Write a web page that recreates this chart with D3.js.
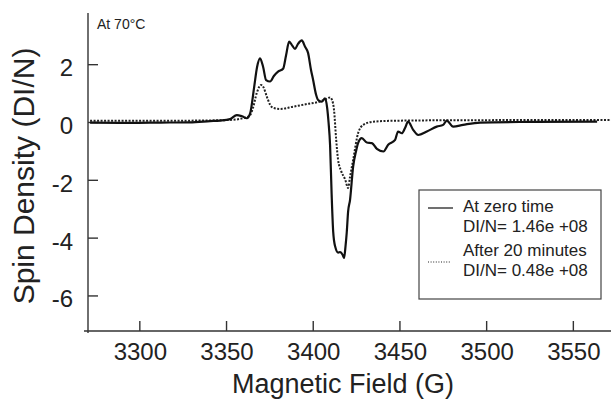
<!DOCTYPE html>
<html lang="en">
<head>
<meta charset="UTF-8">
<title>Spin density</title>
<style>
  body { margin: 0; background: #fff; }
  text { font-family: "Liberation Sans", Arial, sans-serif; fill: #222; }
</style>
<script src="https://d3js.org/d3.v7.min.js"></script>
</head>
<body>
<div id="chart"></div>
<script>
// field (G) and spin density (DI/N)
var zeroField = [3271.6, 3294.6, 3312, 3329, 3340.8, 3346.5, 3352.3, 3356.2, 3359.2, 3362,
  3363.9, 3366.2, 3367.9, 3369.6, 3371.4, 3373.1, 3375.4, 3377.7, 3380, 3382.9,
  3384.6, 3386.4, 3388.1, 3389.8, 3391.5, 3393.7, 3395.6, 3397.3, 3399, 3400.2,
  3401.9, 3403.1, 3405.2, 3407.1, 3408.3, 3409.1, 3410, 3410.9, 3411.8, 3412.9,
  3414.7, 3415.8, 3417.3, 3418.1, 3418.9, 3419.6, 3420.4, 3421.5, 3423.3, 3425,
  3426.2, 3428.3, 3431.2, 3434.1, 3437, 3440.8, 3443.5, 3447.5, 3449.2, 3451.4,
  3453.3, 3455, 3457.9, 3460.8, 3465.8, 3471.5, 3475.2, 3477.3, 3481, 3486.7,
  3496.5, 3519.6, 3564];
var zeroValue = [-0.02, -0.03, -0.02, -0.01, 0.03, 0.05, 0.1, 0.24, 0.2, 0.13,
  0.3, 1.2, 1.9, 2.2, 1.9, 1.45, 1.4, 1.6, 1.74, 1.84,
  2.3, 2.78, 2.65, 2.53, 2.7, 2.82, 2.6, 2.39, 1.8, 1.46,
  0.95, 0.76, 0.7, 0.82, 0.5, 0.0, -0.8, -2.5, -3.8, -4.3,
  -4.52, -4.5, -4.6, -4.7, -4.3, -3.83, -3.1, -2.7, -1.54, -1.0,
  -0.72, -0.56, -0.71, -0.73, -0.93, -1.02, -0.79, -0.62, -0.33, -0.39,
  -0.2, 0.01, -0.27, -0.45, -0.33, -0.16, -0.1, 0.05, -0.16, -0.1,
  -0.02, 0.0, 0.01];

var laterField = [3271.6, 3306, 3335, 3352.3, 3361, 3363.9, 3365.6, 3367.7, 3370.2, 3371.6,
  3373.5, 3375.4, 3377.1, 3381.2, 3388.7, 3396.6, 3404.2, 3407.7, 3410, 3411.2,
  3412.3, 3413.5, 3414.6, 3416.4, 3418.7, 3420.4, 3421.5, 3423.3, 3426.2, 3429.1,
  3434.8, 3444.6, 3479.2, 3572];
var laterValue = [0.04, 0.04, 0.05, 0.07, 0.15, 0.24, 0.5, 1.0, 1.28, 1.2,
  0.88, 0.6, 0.49, 0.45, 0.53, 0.62, 0.71, 0.8, 0.85, 0.75,
  0.4, -0.6, -1.3, -1.7, -1.99, -2.28, -1.9, -1.31, -0.38, -0.1,
  0.01, 0.04, 0.06, 0.07];

var xTicks = [3300, 3350, 3400, 3450, 3500, 3550];
var yTicks = [2, 0, -2, -4, -6];

var width = 611, height = 400;

var svg = d3.select("#chart").append("svg")
  .attr("width", width)
  .attr("height", height);

var x = d3.scaleLinear().domain([3270.4, 3572]).range([88, 611]);
var y = d3.scaleLinear().domain([-7.23, 3.77]).range([331, 13]);

function pts(xs, ys) {
  return xs.map(function(d, i) { return [d, ys[i]]; });
}

var line = d3.line()
  .x(function(d) { return x(d[0]); })
  .y(function(d) { return y(d[1]); })
  .curve(d3.curveMonotoneX);

// axes, ticks point inside the plot
var xAxis = svg.append("g")
  .attr("transform", "translate(0,331)")
  .call(d3.axisTop(x).tickValues(xTicks).tickSize(10).tickFormat(""));
xAxis.select(".domain").attr("d", "M84,0H611");
xAxis.selectAll("line, path").attr("stroke", "#333").attr("stroke-width", 1.4);

var yAxis = svg.append("g")
  .attr("transform", "translate(88,0)")
  .call(d3.axisRight(y).tickValues(yTicks).tickSize(10).tickFormat(""));
yAxis.select(".domain").attr("d", "M0,13V333");
yAxis.selectAll("line, path").attr("stroke", "#333").attr("stroke-width", 1.4);

svg.selectAll(".xlab")
  .data(xTicks)
  .enter().append("text")
  .attr("x", function(d) { return x(d) + 1; })
  .attr("y", 360)
  .attr("text-anchor", "middle")
  .attr("font-size", "24px")
  .text(function(d) { return d; });

svg.selectAll(".ylab")
  .data(yTicks)
  .enter().append("text")
  .attr("x", 73)
  .attr("y", function(d) { return y(d) + 12; })
  .attr("text-anchor", "end")
  .attr("font-size", "24px")
  .text(function(d) { return d; });

svg.append("text")
  .attr("x", 343)
  .attr("y", 393)
  .attr("text-anchor", "middle")
  .attr("font-size", "27px")
  .text("Magnetic Field (G)");

svg.append("text")
  .attr("transform", "translate(34,176) rotate(-90)")
  .attr("text-anchor", "middle")
  .attr("font-size", "30px")
  .text("Spin Density (DI/N)");

svg.append("text")
  .attr("x", 97)
  .attr("y", 29)
  .attr("font-size", "14px")
  .text("At 70\u00B0C");

// curves
svg.append("path")
  .datum(pts(laterField, laterValue))
  .attr("d", line)
  .attr("fill", "none")
  .attr("stroke", "#222")
  .attr("stroke-width", 2)
  .attr("stroke-dasharray", "2,1.5");

svg.append("path")
  .datum(pts(zeroField, zeroValue))
  .attr("d", line)
  .attr("fill", "none")
  .attr("stroke", "#111")
  .attr("stroke-width", 2.2);

// legend
var lg = svg.append("g");
lg.append("rect")
  .attr("x", 419).attr("y", 190)
  .attr("width", 182).attr("height", 109)
  .attr("fill", "#fff")
  .attr("stroke", "#444")
  .attr("stroke-width", 1.2);
lg.append("line")
  .attr("x1", 428).attr("x2", 453).attr("y1", 208).attr("y2", 208)
  .attr("stroke", "#222").attr("stroke-width", 1.3);
lg.append("line")
  .attr("x1", 428).attr("x2", 451).attr("y1", 262).attr("y2", 262)
  .attr("stroke", "#222").attr("stroke-width", 1.2)
  .attr("stroke-dasharray", "1,1.6");

var legendLines = [
  ["At zero time", 212], ["DI/N= 1.46e +08", 232],
  ["After 20 minutes", 256], ["DI/N= 0.48e +08", 276]
];
lg.selectAll(".lt")
  .data(legendLines)
  .enter().append("text")
  .attr("x", 463)
  .attr("y", function(d) { return d[1]; })
  .attr("font-size", "17px")
  .text(function(d) { return d[0]; });
</script>
</body>
</html>
